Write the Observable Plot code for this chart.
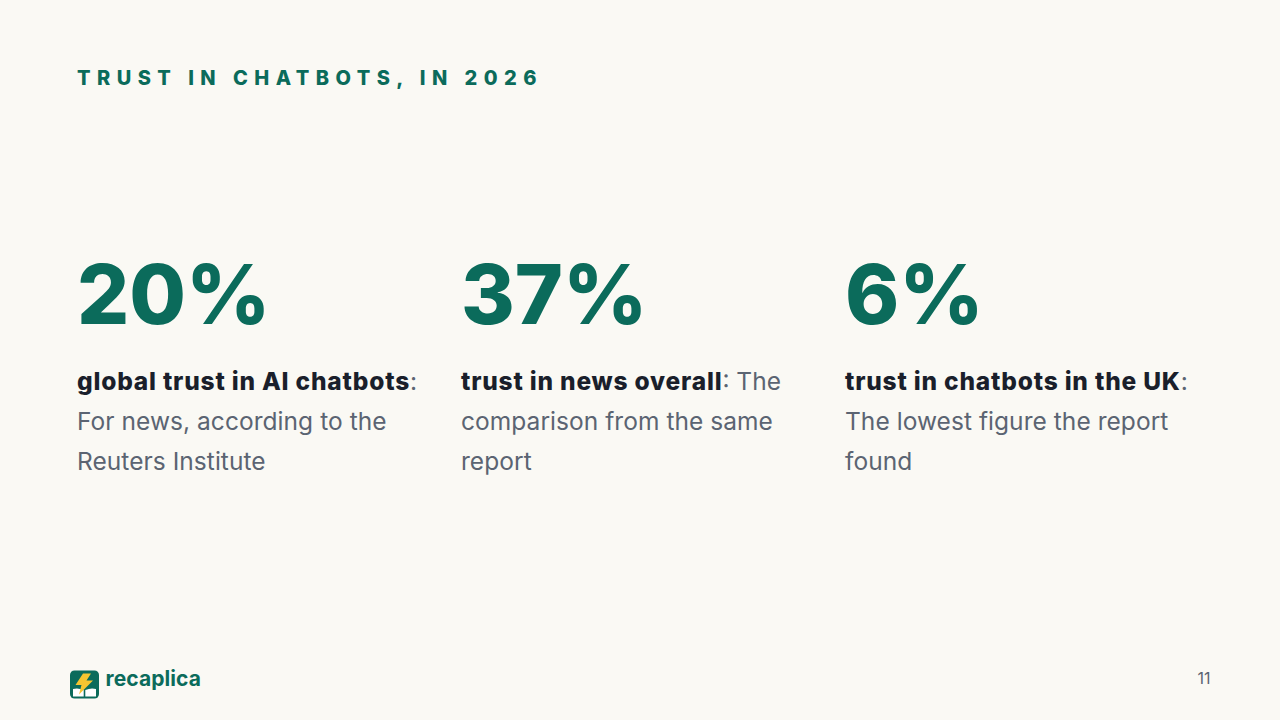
<!DOCTYPE html>
<html><head><meta charset="utf-8">
<script src="https://cdn.jsdelivr.net/npm/d3@7"></script>
<script src="https://cdn.jsdelivr.net/npm/@observablehq/plot@0.6"></script>
<style>html,body{margin:0;padding:0;background:#faf9f4;overflow:hidden}svg{display:block}
#c{position:relative}
#logo{position:absolute;left:70px;top:670px}
.ttl text{letter-spacing:6.45px}
.fig text{letter-spacing:0px}
.bold text{letter-spacing:0.8px}
.reg text{letter-spacing:0.05px}
.brand text{letter-spacing:0.1px}
</style>
</head><body><div id="c"></div>
<script>
const title = "TRUST IN CHATBOTS, IN 2026";
const figures = ["20%", "37%", "6%"];
const columns = [0, 1, 2];
const boldLines = ["global trust in AI chatbots", "trust in news overall", "trust in chatbots in the UK"];
const firstRest = [":", ": The", ":"];
const line2 = ["For news, according to the", "comparison from the same", "The lowest figure the report"];
const line3 = ["Reuters Institute", "report", "found"];
const font = "Inter, sans-serif";
const green = "#0b6b5b", ink = "#1a1f2b", grey = "#5b6472";
const stats = columns.map(i => ({i, fig: figures[i], bold: boldLines[i], rest: firstRest[i], l2: line2[i], l3: line3[i]}));
const xs = i => 76.5 + i * 384;
function withRest(index, scales, values, dims, ctx, next) {
  const g = next(index, scales, values, dims, ctx);
  d3.select(g).selectAll("text").each(function(i) {
    d3.select(this).append("tspan").attr("fill", grey).attr("font-weight", 400).style("letter-spacing","0px").text(stats[i].rest);
  });
  return g;
}
const chart = Plot.plot({
  width: 1280, height: 720, margin: 0, style: {background: "#faf9f4", fontFamily: font},
  x: {domain: [0,1280], range:[0,1280], axis:null}, y: {domain:[0,720], range:[0,720], axis:null},
  marks: [
    Plot.text([title], {x: 76.5, y: 78, text: d=>d, textAnchor:"start", fill: green, fontSize: 20, fontWeight: 800, className:"ttl"}),
    Plot.text(stats, {x: d=>xs(d.i), y: 297, text:"fig", textAnchor:"start", fill: green, fontSize: 82, fontWeight: 800, className:"fig"}),
    Plot.text(stats, {x: d=>xs(d.i), y: 382, text:"bold", textAnchor:"start", fill: ink, fontSize: 24.5, fontWeight: 800, className:"bold", render: withRest}),
    Plot.text(stats, {x: d=>xs(d.i), y: 422, text:"l2", textAnchor:"start", fill: grey, fontSize: 24.5, className:"reg"}),
    Plot.text(stats, {x: d=>xs(d.i), y: 462, text:"l3", textAnchor:"start", fill: grey, fontSize: 24.5, className:"reg"}),
    Plot.text(["recaplica"], {x: 105, y: 679, text:d=>d, textAnchor:"start", fill: green, fontSize: 21, fontWeight: 700, className:"brand"}),
    Plot.text(["11"], {x: 1210, y: 678, text:d=>d, textAnchor:"end", fill: grey, fontSize: 16})
  ]
});
document.getElementById("c").append(chart);
document.getElementById("c").insertAdjacentHTML("beforeend", `<svg id="logo" width="29" height="29" viewBox="0 0 29 29">
<rect x="0" y="0.5" width="29" height="28" rx="4.5" fill="${green}"/>
<path d="M3 19 Q8 17.5 13.7 20 L13.7 26.5 L3 26.5Z" fill="#fff"/>
<path d="M26 19 Q21 17.5 15.3 20 L15.3 26.5 L26 26.5Z" fill="#fff"/>
<path d="M13 3.5 L5.5 15 L11.5 15 L9 24.5 L23 10.5 L16.5 10.5 L21 3.5Z" fill="#f5c531"/>
</svg>`);
</script></body></html>
